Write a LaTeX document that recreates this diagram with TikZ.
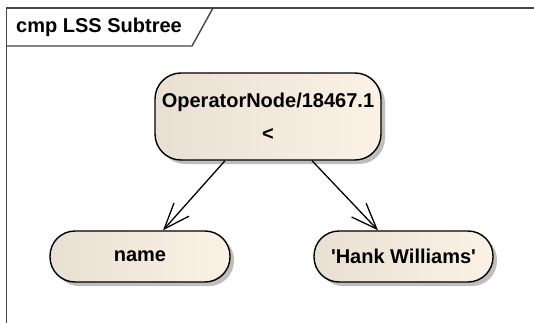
\documentclass[tikz,border=0pt]{standalone}
\usepackage{fontspec}
\setmainfont{Liberation Sans}
\usetikzlibrary{arrows.meta,shadows,calc}
\definecolor{nodeL}{RGB}{233,224,211}
\definecolor{nodeR}{RGB}{251,242,229}
\definecolor{frameC}{RGB}{70,70,70}
\definecolor{shadowC}{RGB}{190,190,190}
\tikzset{
  elem/.style={draw=black, line width=1.4pt, left color=nodeL, right color=nodeR,
    drop shadow={shadow xshift=4pt, shadow yshift=-4pt, fill=shadowC, opacity=1},
    font=\fontsize{20}{33}\selectfont\bfseries, align=center, inner sep=0pt},
  conn/.style={line width=1.3pt, -{Straight Barb[length=26pt,width=20pt,line width=1.3pt]}},
  framel/.style={draw=frameC, line width=1.4pt}
}
\begin{document}
\begin{tikzpicture}[x=1pt,y=-1pt]
\useasboundingbox (0,0) rectangle (534,323);
\fill[white] (0,0) rectangle (534,323);
\draw[framel] (6.5,323) -- (6.5,8) -- (534,8);
\draw[framel] (6.5,46) -- (192,46) -- (213,8);
\node[anchor=west, font=\fontsize{20}{24}\selectfont\bfseries, inner sep=0pt] (title) at (16,27.5) {cmp LSS Subtree};
\node[elem, minimum width=226pt, minimum height=87pt, rounded corners=26pt] (op) at (268,116.5) {OperatorNode/18467.1\\<};
\node[elem, minimum width=180pt, minimum height=51pt, rounded corners=25pt] (nm) at (140,256.5) {name};
\node[elem, minimum width=179pt, minimum height=51pt, rounded corners=25pt] (hw) at (403.5,256.5) {\textquotesingle Hank Williams\textquotesingle};
\draw[conn] ($(op.south)+(-43,0)$) -- ($(nm.north)+(23,0)$);
\draw[conn] ($(op.south)+(44,0)$) -- ($(hw.north)+(-25.5,0)$);
\end{tikzpicture}
\end{document}
